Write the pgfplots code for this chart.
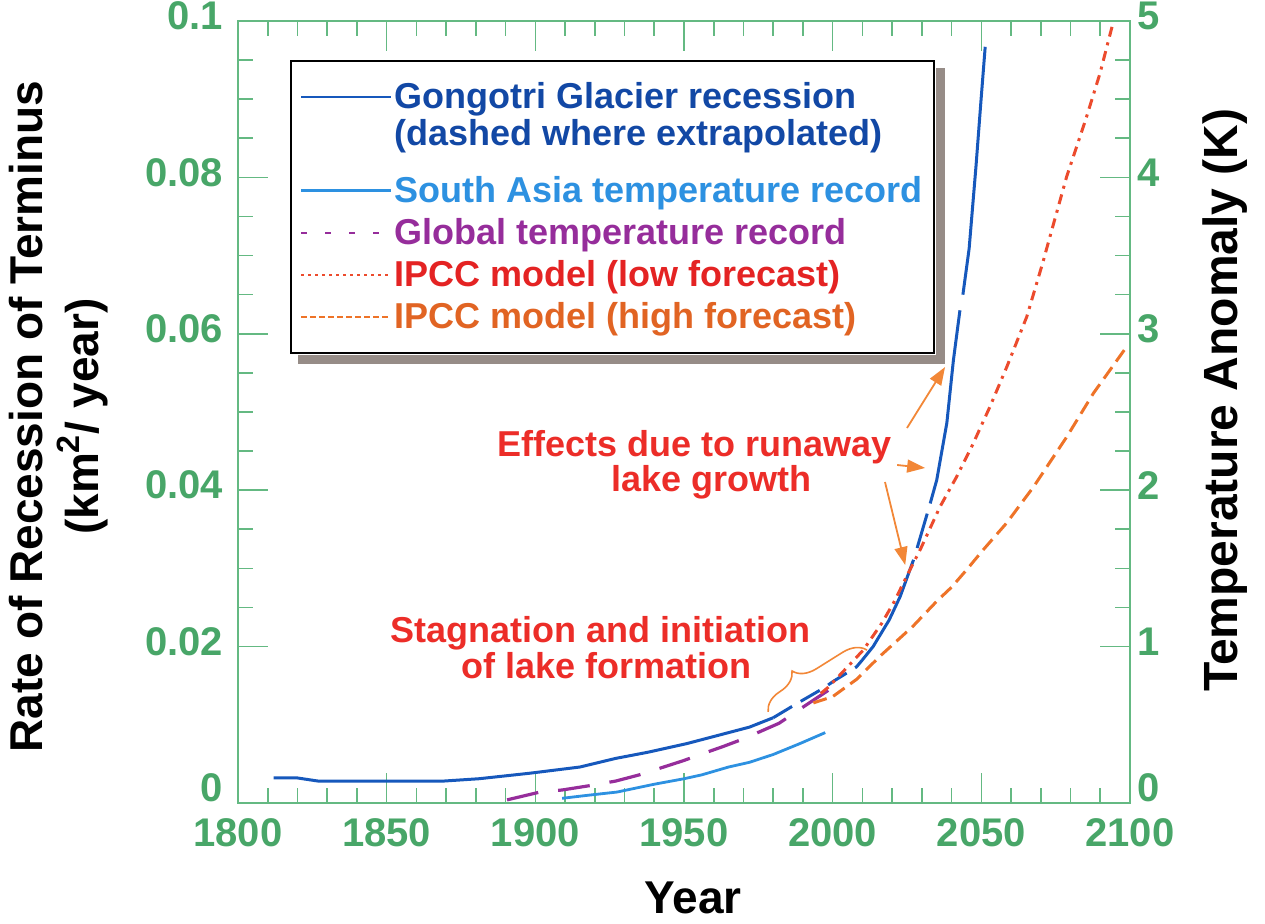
\documentclass[border=0pt]{standalone}
\usepackage{fontspec}
\setmainfont{Liberation Sans}
\usepackage{pgfplots}
\pgfplotsset{compat=1.18}
\usetikzlibrary{arrows.meta,decorations.pathreplacing}
\definecolor{tgreen}{RGB}{72,166,104}
\definecolor{gline}{RGB}{100,185,130}
\definecolor{gong}{RGB}{22,88,188}
\definecolor{gongtxt}{RGB}{18,72,165}
\definecolor{sasia}{RGB}{45,145,225}
\definecolor{glob}{RGB}{150,45,155}
\definecolor{ipcclow}{RGB}{236,75,45}
\definecolor{ipcclowtxt}{RGB}{228,35,35}
\definecolor{ipcchigh}{RGB}{238,115,40}
\definecolor{ipcchightxt}{RGB}{225,100,35}
\definecolor{annred}{RGB}{236,45,40}
\definecolor{annor}{RGB}{242,135,55}
\definecolor{shadowc}{RGB}{150,140,135}
\begin{document}
\begin{tikzpicture}
\path[use as bounding box] (0,0) rectangle (632.5pt,462pt);
\pgfplotsset{
  common/.style={
    at={(119pt,60.5pt)}, anchor=south west,
    scale only axis, width=446pt, height=391pt,
    xmin=1800, xmax=2100,
    tick align=inside,
    major tick length=15pt, minor tick length=7.5pt,
    every tick/.style={gline, line width=0.8pt},
    minor tick style={gline, line width=0.8pt},
    tick label style={font=\fontsize{20}{24}\selectfont\bfseries, text=tgreen},
    axis line style={gline, line width=1pt},
    clip=false,
  }
}
\begin{axis}[common,
  ymin=0, ymax=0.1,
  xtick={1800,1850,1900,1950,2000,2050,2100},
  xticklabels={1800,1850,1900,1950,2000,2050,2100},
  minor x tick num=4,
  ytick={0.02,0.04,0.06,0.08,0.1},
  yticklabels={0.02,0.04,0.06,0.08,0.1},
  extra y ticks={0},
  extra y tick labels={0},
  extra y tick style={yticklabel style={yshift=5pt}},
  minor y tick num=3,
  ytick pos=left,
  xticklabel style={yshift=-4.5pt},
  yticklabel style={xshift=-4pt, yshift=2.5pt},
  xlabel={Year},
  ylabel={Rate of Recession of Terminus\\(km\textsuperscript{2}/ year)},
  xlabel style={at={(axis cs:1953,-0.0122)}, anchor=center, font=\fontsize{23}{27}\selectfont\bfseries},
  ylabel style={at={(axis cs:1739.5,0.0494)}, anchor=center, align=center, font=\fontsize{23}{28}\selectfont\bfseries},
]
% Gongotri glacier recession
\addplot[gong, line width=1.5pt] coordinates {
(1812,0.0032) (1820,0.0032) (1827,0.0028) (1850,0.0028) (1869,0.0028) (1881,0.0031)
(1898,0.0038) (1915,0.0046) (1927,0.0057) (1938,0.0065) (1951,0.0076) (1962,0.0087)
(1972,0.0097) (1980,0.0109)};
\addplot[gong, line width=1.5pt, dash pattern=on 11pt off 5pt] coordinates {
(1980,0.0109) (1987,0.0125) (1997,0.0147) (2000,0.0155) (2008,0.0174) (2010,0.0183)};
\addplot[gong, line width=1.5pt] coordinates {
(2010,0.0183) (2013.6,0.0200) (2019,0.0234) (2022.7,0.0264) (2027.2,0.0311)};
\addplot[gong, line width=1.5pt] coordinates {
(2028.4,0.0326) (2031.8,0.0370)};
\addplot[gong, line width=1.5pt] coordinates {
(2032.8,0.0383) (2035,0.0413) (2038.4,0.0486) (2040.6,0.0566) (2042.8,0.0630)};
\addplot[gong, line width=1.5pt] coordinates {
(2043.8,0.0650) (2045.9,0.0709) (2048.2,0.0814) (2049.9,0.0899) (2051.3,0.0967)};
% annotations
\node[anchor=base, text=annred, font=\fontsize{18}{21}\selectfont\bfseries] at (axis cs:1953.7,0.04425) {Effects due to runaway};
\node[anchor=base, text=annred, font=\fontsize{18}{21}\selectfont\bfseries] at (axis cs:1959.1,0.03977) {lake growth};
\node[anchor=base, text=annred, font=\fontsize{18}{21}\selectfont\bfseries] at (axis cs:1921.8,0.02046) {Stagnation and initiation};
\node[anchor=base, text=annred, font=\fontsize{18}{21}\selectfont\bfseries] at (axis cs:1924.1,0.01598) {of lake formation};
\draw[annor, line width=0.9pt, -{Triangle[length=9pt,width=6.5pt]}] (axis cs:2025,0.04795) -- (axis cs:2037.8,0.05575);
\draw[annor, line width=0.9pt, -{Triangle[length=9pt,width=6.5pt]}] (axis cs:2021.7,0.04322) -- (axis cs:2031.1,0.04284);
\draw[annor, line width=0.9pt, -{Triangle[length=9pt,width=6.5pt]}] (axis cs:2017.6,0.04105) -- (axis cs:2024.4,0.03043);
\draw[annor, line width=0.8pt, decorate, decoration={brace, amplitude=11pt, aspect=0.36}] (axis cs:1978.3,0.01164) -- (axis cs:2011.6,0.01957);
\end{axis}
\begin{axis}[common,
  ymin=0, ymax=5,
  axis x line=none,
  axis y line*=right,
  ytick={1,2,3,4,5},
  yticklabels={1,2,3,4,5},
  extra y ticks={0},
  extra y tick labels={0},
  extra y tick style={yticklabel style={yshift=5pt}},
  yticklabel style={yshift=2.5pt},
  minor y tick num=3,
  ylabel={Temperature Anomaly (K)},
  ylabel style={at={(axis cs:2132,2.577)}, anchor=center, rotate=0, font=\fontsize{24}{28}\selectfont\bfseries},
  legend style={name=leg, at={(rel axis cs:0.0583,0.950)}, anchor=north west, draw=black, line width=1pt, fill=white,
    font=\fontsize{18}{18.5}\selectfont\bfseries, inner xsep=4.5pt, inner ysep=8.5pt, row sep=2.5pt,
    cells={anchor=west, align=left}, nodes={inner xsep=1pt}},
  legend image code/.code={\draw[#1] (0pt,0pt) -- (45pt,0pt);},
]
\addlegendimage{legend image code/.code={\draw[gong, line width=1.2pt] (0pt,9pt) -- (45pt,9pt);}}
\addlegendentry{\textcolor{gongtxt}{Gongotri Glacier recession}\\\textcolor{gongtxt}{(dashed where extrapolated)}}
\addlegendimage{empty legend}
\addlegendentry[inner sep=0pt]{\rule{0pt}{3.5pt}}
\addplot[sasia, line width=1.4pt] coordinates {
(1909,0.03) (1918,0.05) (1927.5,0.07) (1940,0.12) (1950,0.155) (1956,0.18) (1965,0.23)
(1972,0.26) (1980,0.31) (1989,0.38) (1997.5,0.45)};
\addlegendentry{\textcolor{sasia}{South Asia temperature record}}
\addplot[glob, line width=1.6pt, dash pattern=on 16pt off 10pt,
  legend image code/.code={\draw[glob, line width=1.2pt, dash pattern=on 3pt off 9pt] (0pt,0pt) -- (45pt,0pt);}] coordinates {
(1890.5,0.02) (1901.6,0.07) (1909,0.083) (1918,0.11) (1927,0.14) (1935,0.18) (1949.7,0.27)
(1957,0.32) (1963,0.36) (1970,0.41) (1982,0.51) (1989,0.60) (1998.5,0.72)};
\addlegendentry{\textcolor{glob}{Global temperature record}}
\addplot[ipcclow, line width=1.5pt, dash pattern=on 5pt off 3pt on 1.5pt off 3pt,
  legend image code/.code={\draw[ipcclow, line width=1.2pt, dash pattern=on 1.5pt off 2pt] (0pt,0pt) -- (45pt,0pt);}] coordinates {
(1996,0.70) (1998.5,0.74) (2004,0.85) (2010.3,0.978) (2016.5,1.149) (2020.4,1.277) (2027.1,1.533)
(2029.4,1.618) (2036.1,1.894) (2041.7,2.086) (2047.3,2.30) (2052.9,2.534) (2058.6,2.79)
(2065.3,3.11) (2070.9,3.47) (2072.0,3.547) (2078.7,4.005) (2085.4,4.388) (2089.9,4.665) (2094.4,4.996)};
\addlegendentry{\textcolor{ipcclowtxt}{IPCC model (low forecast)}}
\addplot[ipcchigh, line width=1.5pt, dash pattern=on 7pt off 3.5pt,
  legend image code/.code={\draw[ipcchigh, line width=1.2pt, dash pattern=on 3pt off 1.5pt] (0pt,0pt) -- (45pt,0pt);}] coordinates {
(1993.5,0.64) (2000,0.68) (2008,0.79) (2016,0.94) (2027,1.13) (2035,1.29) (2040,1.38)
(2045,1.49) (2050.6,1.618) (2058.5,1.79) (2067.5,2.02) (2078.7,2.34) (2087.7,2.62) (2098.9,2.918)};
\addlegendentry{\textcolor{ipcchightxt}{IPCC model (high forecast)}}
\end{axis}
\fill[shadowc] ([xshift=0.5pt,yshift=-4pt]leg.north east) rectangle ([xshift=5pt,yshift=-5pt]leg.south east);
\fill[shadowc] ([xshift=4pt,yshift=-0.5pt]leg.south west) rectangle ([xshift=5pt,yshift=-5pt]leg.south east);
\end{tikzpicture}
\end{document}
